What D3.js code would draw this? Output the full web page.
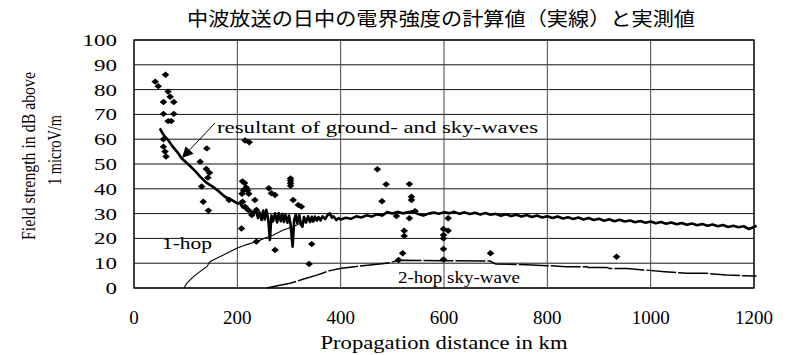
<!DOCTYPE html>
<html>
<head>
<meta charset="utf-8">
<script src="https://cdn.jsdelivr.net/npm/d3@7"></script>
<style>
  body { margin: 0; background: #fff; }
  text { fill: #000; }
</style>
</head>
<body>
<div id="chart"></div>
<script>
// chart texts
const titleText = "中波放送の日中の電界強度の計算値（実線）と実測値";
const xTitle = "Propagation distance in km";
const yTitle1 = "Field strength in dB above";
const yTitle2 = "1 microV/m";

// tick labels
const xTicks = [0, 200, 400, 600, 800, 1000, 1200];
const yTicks = [0, 10, 20, 30, 40, 50, 60, 70, 80, 90, 100];

// calculated resultant of ground- and sky-waves [km, dB]
const resultant = [
  [50, 64.4], [55, 62.5], [60, 61], [66, 59.7], [75, 57], [85, 54.5], [92, 52.3],
  [100, 50.8], [110, 48.9], [120, 46.8], [128, 44.9], [140, 42.5], [153, 40.8],
  [165, 38.8], [176, 36.8], [188, 35.6], [200, 34.1], [205, 34.2], [210, 32.5],
  [215, 32.1], [222, 31], [228, 30.8], [233, 30.3], [237, 30.8], [240, 28.2],
  [243, 30.5], [247, 27.4], [250, 31.2], [253, 27.6], [256, 31.5], [260, 27.4],
  [263, 19.4], [266, 29.2], [269, 26.8], [273, 30.1], [277, 26.4], [280, 30.2],
  [284, 26.9], [287, 29.9], [290, 26.6], [293, 29.6], [297, 26.3], [300, 29.2],
  [303, 25.8], [307, 16.7], [310, 27.4], [313, 29.6], [316, 26.2], [320, 29.4],
  [323, 25.6], [326, 24.7], [329, 28.6], [333, 26.4], [337, 28.9], [341, 26.6],
  [344, 28.7], [347, 26.8], [350, 28.8], [354, 27.2], [357, 28.6], [361, 27.3],
  [365, 28.9], [370, 27.8], [375, 29.5], [379, 30.1], [383, 28.4], [386, 28.9],
  [392, 27.4], [396, 28.2],
  [400, 27.6], [410, 28.3], [420, 27.9], [430, 28.9], [440, 28.4], [450, 29.3],
  [460, 28.8], [470, 29.7], [480, 29.2], [490, 30.6], [500, 30.0], [510, 30.7],
  [520, 30.1], [530, 30.5], [540, 30.9], [550, 29.8], [560, 29.2], [570, 30.0],
  [580, 30.4], [590, 29.9], [600, 30.6], [610, 30.1], [620, 30.7], [630, 29.9],
  [640, 30.5], [650, 29.8], [660, 30.3], [670, 29.6], [680, 30.2], [690, 29.5],
  [700, 29.9], [710, 29.1], [720, 29.7], [730, 29.0], [740, 29.5], [750, 28.8],
  [760, 29.4], [770, 28.6], [780, 29.2], [790, 28.4], [800, 28.9], [810, 28.2],
  [820, 28.8], [830, 28.0], [840, 28.5], [850, 27.8], [860, 28.4], [870, 27.6],
  [880, 28.2], [890, 27.4], [900, 27.9], [910, 27.1], [920, 27.7], [930, 26.9],
  [940, 27.5], [950, 26.8], [960, 27.2], [970, 26.5], [980, 27.0], [990, 26.3],
  [1000, 26.8], [1010, 26.1], [1020, 26.6], [1030, 25.9], [1040, 26.4], [1050, 25.7],
  [1060, 26.2], [1070, 25.5], [1080, 26.0], [1090, 25.3], [1100, 25.8], [1110, 25.1],
  [1120, 25.6], [1130, 24.9], [1140, 25.4], [1150, 24.6], [1160, 25.1], [1170, 24.5],
  [1180, 24.9], [1190, 23.8], [1200, 24.6], [1205, 25.2]
];

// 1-hop sky-wave
const oneHop = [
  [97, 0], [102, 1.9], [115, 4.6], [130, 7], [141, 8.6], [147, 10.6], [160, 12],
  [173, 13.3], [199, 16], [218, 17.5], [237, 18.7], [255, 20.3], [270, 21.4],
  [290, 23.5], [308, 24.7], [328, 26.7], [345, 27.8], [365, 28.4]
];

// 2-hop sky-wave
const twoHop = [
  [257, 0], [280, 1], [302, 1.9], [330, 3.7], [354, 5.2], [379, 7], [399, 7.9],
  [430, 8.7], [457, 9.3], [480, 9.8], [495, 10.2], [505, 10.8], [520, 11.2],
  [600, 11], [689, 10.9], [700, 9.7], [760, 9.4], [800, 9.0], [836, 8.6],
  [876, 8.6], [880, 8.3], [915, 8.3], [920, 7.9], [954, 7.9], [986, 7.3],
  [1028, 6.6], [1070, 5.9], [1108, 5.9], [1147, 5.2], [1200, 4.8], [1205, 4.8]
];

// measured values
const measured = [
  [41, 83.2], [47, 81.4], [61, 86], [66, 79.2], [70, 77.1], [57, 75], [77, 75],
  [57, 70.2], [77, 70.2], [66, 67.3], [72, 67.3], [57, 60], [57, 57], [60, 55], [62, 53],
  [141, 56.3], [128, 50.9], [140, 48], [146, 46.5], [143, 44.5], [131, 40.9],
  [134, 34.8], [144, 31.2], [184, 35.5], [215, 59.5], [223, 58.8],
  [210, 43], [214, 42.3], [217, 40.5], [212, 39.3], [209, 38], [220, 39.3], [222, 38],
  [210, 34.8], [215, 32.8], [221, 31.5], [234, 35.5], [237, 31.5], [228, 29.4],
  [208, 24], [237, 18.7], [261, 40.2], [266, 38.2], [273, 37.5], [273, 15.3],
  [303, 44.2], [303, 43.2], [303, 42.2], [303, 41.2], [308, 35.5], [318, 33.5],
  [324, 32.8], [344, 17.7], [339, 9.7],
  [471, 47.9], [488, 41.8], [480, 35], [508, 29],
  [533, 41.9], [537, 36.8], [537, 35.5], [533, 28.1], [544, 31], [523, 23.1],
  [523, 21], [520, 14], [512, 11.3],
  [608, 28.1], [599, 23.8], [608, 23.1], [599, 21.4], [599, 20], [599, 15.7], [599, 11.5],
  [690, 14], [934, 12.6]
];

const W = 787, H = 355;
const margin = {top: 40, right: 33, bottom: 67, left: 134};
const width = W - margin.left - margin.right;
const height = H - margin.top - margin.bottom;

const svg = d3.select("#chart").append("svg")
  .attr("width", W)
  .attr("height", H)
  .style("font-family", "'Liberation Serif', 'Times New Roman', serif");

const x = d3.scaleLinear().domain([0, 1200]).range([0, width]);
const y = d3.scaleLinear().domain([0, 100]).range([height, 0]);

// title
svg.append("text")
  .attr("x", 441)
  .attr("y", 26)
  .attr("text-anchor", "middle")
  .style("font-family", "'Noto Sans CJK JP', sans-serif")
  .style("font-size", "19px")
  .attr("textLength", 508)
  .attr("lengthAdjust", "spacingAndGlyphs")
  .text(titleText);

const g = svg.append("g")
  .attr("transform", "translate(" + margin.left + "," + margin.top + ")");

// horizontal grid
g.selectAll(".hgrid")
  .data(yTicks)
  .join("line")
  .attr("x1", 0).attr("x2", width)
  .attr("y1", d => y(d)).attr("y2", d => y(d))
  .attr("stroke", "#111")
  .attr("stroke-width", 1);

// vertical grid
g.selectAll(".vgrid")
  .data(xTicks)
  .join("line")
  .attr("x1", d => x(d)).attr("x2", d => x(d))
  .attr("y1", 0).attr("y2", height)
  .attr("stroke", "#444")
  .attr("stroke-width", 1);

g.append("rect")
  .attr("width", width).attr("height", height)
  .attr("fill", "none")
  .attr("stroke", "#000")
  .attr("stroke-width", 1.2);

// y tick labels
g.selectAll(".ylab")
  .data(yTicks)
  .join("text")
  .attr("x", -17)
  .attr("y", d => y(d) + 6)
  .attr("text-anchor", "end")
  .style("font-size", "17px")
  .attr("textLength", d => String(d).length * 11.5)
  .attr("lengthAdjust", "spacingAndGlyphs")
  .text(d => d);

// x tick labels
g.selectAll(".xlab")
  .data(xTicks)
  .join("text")
  .attr("x", d => x(d))
  .attr("y", height + 36)
  .attr("text-anchor", "middle")
  .style("font-size", "19px")
  .text(d => d);

// axis titles
svg.append("text")
  .attr("x", 444).attr("y", 349)
  .attr("text-anchor", "middle")
  .style("font-size", "19px")
  .attr("textLength", 247)
  .attr("lengthAdjust", "spacingAndGlyphs")
  .text(xTitle);

svg.append("text")
  .attr("transform", "translate(35,156) rotate(-90) scale(0.88,1)")
  .attr("text-anchor", "middle")
  .style("font-size", "18px")
  .text(yTitle1);

svg.append("text")
  .attr("transform", "translate(61,150) rotate(-90) scale(0.8,1)")
  .attr("text-anchor", "middle")
  .style("font-size", "18px")
  .text(yTitle2);

const line = d3.line().x(d => x(d[0])).y(d => y(d[1]));

// 1-hop and 2-hop sky-wave
g.append("path")
  .datum(oneHop)
  .attr("d", line)
  .attr("fill", "none")
  .attr("stroke", "#000")
  .attr("stroke-width", 1.1);

g.append("path")
  .datum(twoHop)
  .attr("d", line)
  .attr("fill", "none")
  .attr("stroke", "#000")
  .attr("stroke-width", 1.5)
  .attr("stroke-dasharray", "30,2");

// resultant
g.append("path")
  .datum(resultant)
  .attr("d", line)
  .attr("fill", "none")
  .attr("stroke", "#000")
  .attr("stroke-width", 2.6)
  .attr("stroke-linejoin", "round");

// measured diamonds
const diamond = {
  draw(ctx, size) {
    ctx.moveTo(0, -3.2);
    ctx.lineTo(3.8, 0);
    ctx.lineTo(0, 3.2);
    ctx.lineTo(-3.8, 0);
    ctx.closePath();
  }
};
g.selectAll(".pt")
  .data(measured)
  .join("path")
  .attr("transform", d => "translate(" + x(d[0]) + "," + y(d[1]) + ")")
  .attr("d", d3.symbol().type(diamond))
  .attr("fill", "#000");

// annotations
svg.append("text")
  .attr("x", 217).attr("y", 133)
  .style("font-size", "17px")
  .attr("textLength", 321)
  .attr("lengthAdjust", "spacingAndGlyphs")
  .text("resultant of ground- and sky-waves");

svg.append("defs").append("marker")
  .attr("id", "arrow")
  .attr("viewBox", "0 0 10 10")
  .attr("refX", 10).attr("refY", 5)
  .attr("markerWidth", 13).attr("markerHeight", 11)
  .attr("markerUnits", "userSpaceOnUse")
  .attr("orient", "auto")
  .append("path")
  .attr("d", "M0,0 L10,5 L0,10 z")
  .attr("fill", "#000");

svg.append("line")
  .attr("x1", 215).attr("y1", 123)
  .attr("x2", 182).attr("y2", 158)
  .attr("stroke", "#000")
  .attr("stroke-width", 1)
  .attr("marker-end", "url(#arrow)");

svg.append("text")
  .attr("x", 162).attr("y", 249)
  .style("font-size", "17px")
  .attr("textLength", 50)
  .attr("lengthAdjust", "spacingAndGlyphs")
  .text("1-hop");

svg.append("text")
  .attr("x", 398).attr("y", 283)
  .style("font-size", "17px")
  .attr("textLength", 122)
  .attr("lengthAdjust", "spacingAndGlyphs")
  .text("2-hop sky-wave");
</script>
</body>
</html>
